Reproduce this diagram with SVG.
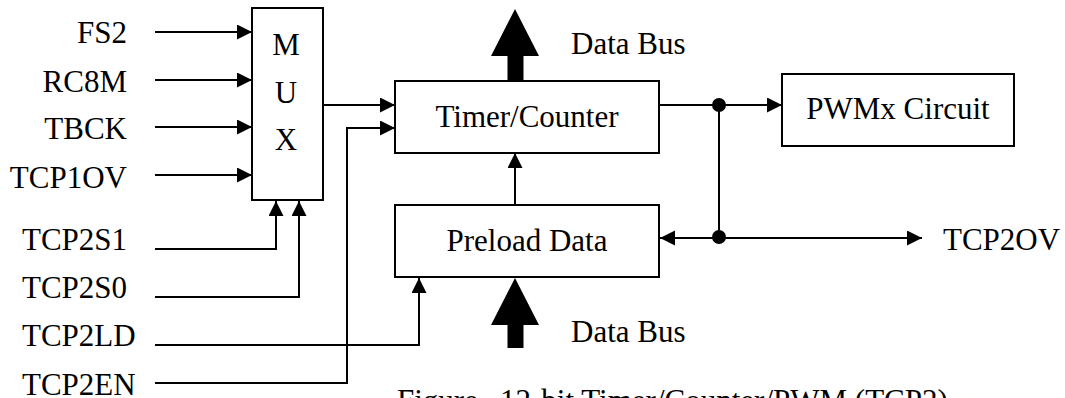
<svg xmlns="http://www.w3.org/2000/svg" width="1065" height="398" viewBox="0 0 1065 398">
<style>
text{font-family:"Liberation Serif","Times New Roman",serif;font-size:31px;fill:#000}
.box{fill:#fff;stroke:#000;stroke-width:2}
.ln{fill:none;stroke:#000;stroke-width:2}
.r{text-anchor:end}
.m{text-anchor:middle}
</style>
<defs>
<marker id="ah" markerUnits="userSpaceOnUse" markerWidth="16" markerHeight="16" refX="15" refY="7.5" orient="auto" viewBox="0 0 16 16">
<path d="M0,0 L15,7.5 L0,15 z" fill="#000"/>
</marker>
</defs>
<rect width="1065" height="398" fill="#fff"/>

<g id="labels">
<text x="127" y="43" class="r">FS2</text>
<text x="127" y="92" class="r">RC8M</text>
<text x="127" y="139" class="r">TBCK</text>
<text x="127" y="188" class="r">TCP1OV</text>
<text x="22" y="250">TCP2S1</text>
<text x="22" y="298">TCP2S0</text>
<text x="22" y="346">TCP2LD</text>
<text x="22" y="395">TCP2EN</text>
<text x="943" y="250">TCP2OV</text>
</g>

<g id="mux">
<rect x="252" y="8" width="71" height="192" class="box"/>
<text x="286" y="55" class="m">M</text>
<text x="286" y="103" class="m">U</text>
<text x="286" y="150" class="m">X</text>
</g>

<g id="timer">
<rect x="395" y="81" width="264" height="72" class="box"/>
<text x="527" y="127" class="m">Timer/Counter</text>
</g>

<g id="preload">
<rect x="395" y="205" width="264" height="72" class="box"/>
<text x="527" y="251" class="m">Preload Data</text>
</g>

<g id="pwm">
<rect x="782" y="74" width="232" height="72" class="box"/>
<text x="898" y="119" class="m">PWMx Circuit</text>
</g>

<g id="buses">
<path d="M515,9 L539,56 L523.5,56 L523.5,81 L507.5,81 L507.5,56 L491,56 z" fill="#000"/>
<text x="571" y="54">Data Bus</text>
<path d="M515,278 L539,325 L523.5,325 L523.5,348 L507.5,348 L507.5,325 L491,325 z" fill="#000"/>
<text x="571" y="342">Data Bus</text>
</g>

<g id="connectors">
<line x1="155" y1="32" x2="252" y2="32" class="ln" marker-end="url(#ah)"/>
<line x1="155" y1="80" x2="252" y2="80" class="ln" marker-end="url(#ah)"/>
<line x1="155" y1="127" x2="252" y2="127" class="ln" marker-end="url(#ah)"/>
<line x1="155" y1="175" x2="252" y2="175" class="ln" marker-end="url(#ah)"/>
<polyline points="155,249 276,249 276,201" class="ln" marker-end="url(#ah)"/>
<polyline points="155,297 299,297 299,201" class="ln" marker-end="url(#ah)"/>
<polyline points="155,345 419,345 419,278" class="ln" marker-end="url(#ah)"/>
<polyline points="155,383 347,383 347,128 395,128" class="ln" marker-end="url(#ah)"/>
<line x1="323" y1="105" x2="395" y2="105" class="ln" marker-end="url(#ah)"/>
<line x1="515" y1="205" x2="515" y2="153" class="ln" marker-end="url(#ah)"/>
<line x1="659" y1="105" x2="782" y2="105" class="ln" marker-end="url(#ah)"/>
<line x1="719" y1="105" x2="719" y2="238" class="ln"/>
<line x1="719" y1="238" x2="660" y2="238" class="ln" marker-end="url(#ah)"/>
<line x1="719" y1="238" x2="922" y2="238" class="ln" marker-end="url(#ah)"/>
<circle cx="719" cy="105" r="7" fill="#000"/>
<circle cx="719" cy="237" r="7" fill="#000"/>
</g>

<g id="caption">
<text x="397" y="411">Figure</text>
<text x="500" y="411">12-bit Timer/Counter/PWM (TCP2)</text>
</g>
</svg>
